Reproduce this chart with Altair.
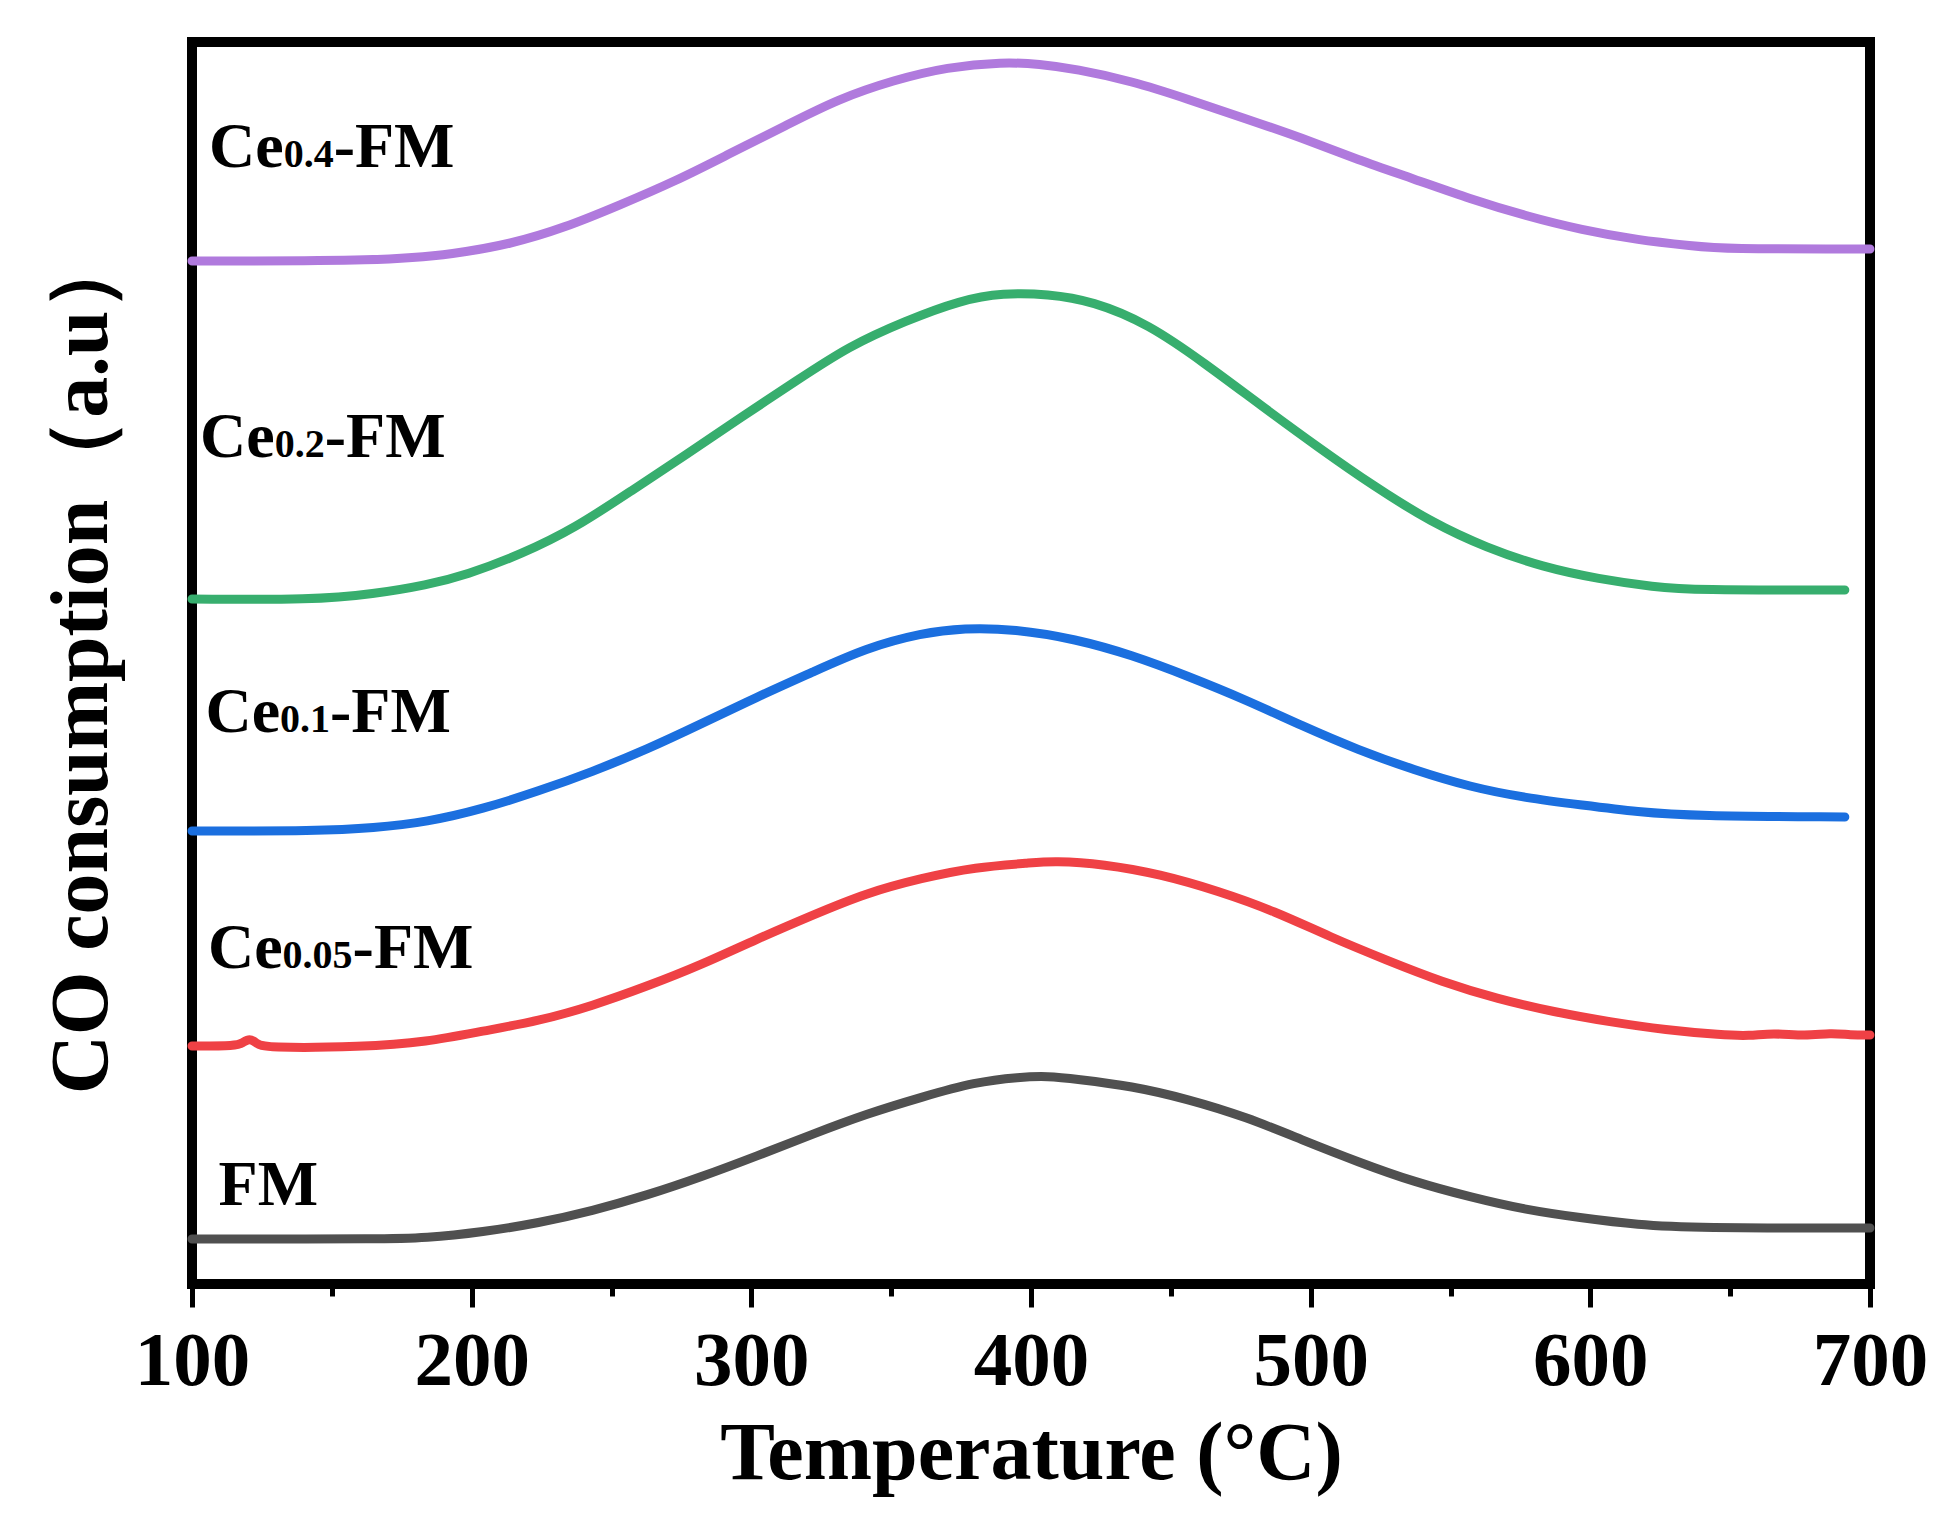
import altair as alt
import pandas as pd

# temperature (°C) and stacked signal (arbitrary units, offset per sample)
fm_t = [100, 128, 165, 184, 204, 224, 243, 263, 282, 302, 322, 341, 361, 380, 396, 406,
        416, 436, 456, 477, 497, 517, 537, 557, 577, 597, 617, 637, 700]
fm_y = [45, 45, 45, 46, 52, 61, 73, 89, 107, 128, 150, 170, 187, 202, 207, 208,
        205, 198, 185, 167, 144, 122, 102, 87, 74, 66, 59, 56, 56]

ce005_t = [100, 116, 118, 120.6, 123, 125.4, 161, 184, 204, 224, 243, 263, 282, 302, 322,
           341, 361, 380, 400, 408, 426, 446, 467, 487, 507, 527, 547, 567, 587, 607, 627,
           647, 657, 665, 677, 686, 693, 700]
ce005_y = [238, 238, 241, 246, 241, 236, 237, 242, 253, 263, 278, 298, 319, 345, 369,
           391, 406, 417, 421, 423, 420, 410, 393, 373, 347, 324, 302, 285, 272, 262, 254,
           249, 248, 251, 248, 251, 249, 249]

ce01_t = [100, 145, 165, 184, 204, 224, 243, 263, 282, 302, 322, 341, 361, 376, 394, 416,
          436, 456, 477, 497, 517, 537, 557, 577, 597, 617, 637, 691]
ce01_y = [453, 453, 456, 462, 475, 493, 512, 535, 560, 587, 612, 636, 651, 656, 655, 645,
          629, 608, 584, 558, 534, 514, 497, 486, 479, 472, 468, 467]

ce02_t = [100, 143, 165, 184, 198, 218, 237, 257, 277, 296, 316, 335, 355, 375, 390, 406,
          422, 442, 462, 482, 503, 523, 543, 563, 583, 603, 623, 637, 691]
ce02_y = [685, 684, 690, 699, 709, 730, 756, 793, 830, 866, 903, 938, 963, 984, 991, 990,
          983, 960, 921, 879, 836, 797, 762, 736, 717, 705, 697, 694, 694]

ce04_t = [100, 169, 194, 214, 233, 253, 273, 292, 312, 331, 351, 370, 390, 403, 416, 436,
          456, 476, 497, 517, 537, 557, 577, 597, 617, 637, 647, 700]
ce04_y = [1023, 1023, 1030, 1040, 1056, 1079, 1103, 1130, 1158, 1185, 1204, 1217, 1222, 1220,
          1215, 1203, 1185, 1166, 1146, 1124, 1105, 1085, 1068, 1054, 1044, 1038, 1035, 1035]

series_names = ["FM", "Ce0.05-FM", "Ce0.1-FM", "Ce0.2-FM", "Ce0.4-FM"]
series_colors = ["#505050", "#EF4145", "#1B6FDF", "#37AE6E", "#B07ADD"]

# labels: prefix, subscript, suffix, anchor temperature, baseline
label_pre = ["FM", "Ce", "Ce", "Ce", "Ce"]
label_sub = ["", "0.05", "0.1", "0.2", "0.4"]
label_post = ["", "-FM", "-FM", "-FM", "-FM"]
label_x = [109.5, 105.7, 104.8, 102.9, 106.1]
label_y = [78.6, 316, 552, 827, 1117]

W, H = 1678, 1242
FONT = "Liberation Serif"
MAIN_SIZE, SUB_SIZE = 64, 40
ADV = {"C": 722, "e": 444, "0": 500, "1": 500, "2": 500, "4": 500, "5": 500,
       ".": 250, "-": 333, "F": 611, "M": 944}


def text_w(s, size):
    return sum(ADV[c] for c in s) * size / 1000


px_per_deg = W / 600

rows = []
for name, ts, ys in zip(series_names,
                        [fm_t, ce005_t, ce01_t, ce02_t, ce04_t],
                        [fm_y, ce005_y, ce01_y, ce02_y, ce04_y]):
    for t, y in zip(ts, ys):
        rows.append({"serie": name, "temp": t, "senal": y})
df = pd.DataFrame(rows)

main_rows, sub_rows = [], []
for pre, sub, post, x0, y0 in zip(label_pre, label_sub, label_post, label_x, label_y):
    main_rows.append({"x": x0, "y": y0, "txt": pre})
    off = text_w(pre, MAIN_SIZE)
    if sub:
        sub_rows.append({"x": x0 + off / px_per_deg, "y": y0, "txt": sub})
        off += text_w(sub, SUB_SIZE)
    if post:
        main_rows.append({"x": x0 + off / px_per_deg, "y": y0, "txt": post})
df_main = pd.DataFrame(main_rows)
df_sub = pd.DataFrame(sub_rows)

x_scale = alt.Scale(domain=[100, 700], nice=False)
y_scale = alt.Scale(domain=[0, H], nice=False, zero=False)

eje_x = alt.Axis(
    values=list(range(100, 701, 50)),
    labelExpr="datum.value % 100 === 0 ? datum.label : ''",
    tickSize={"condition": {"test": "datum.value % 100 !== 0", "value": 12}, "value": 23},
    tickWidth=5, tickColor="black", domain=False, grid=False,
    labelFont=FONT, labelFontWeight="bold", labelFontSize=77, labelColor="black",
    labelBaseline="alphabetic", labelPadding=77, labelOverlap=False, labelFlush=False,
    title="Temperature (°C)", titleFont=FONT, titleFontWeight="bold", titleFontSize=82,
    titleColor="black", titleBaseline="alphabetic", titleY=194,
)
eje_y = alt.Axis(
    labels=False, ticks=False, domain=False, grid=False,
    title="CO consumption（a.u）", titleFont=FONT, titleFontWeight="bold",
    titleFontSize=82, titleColor="black", titleAngle=270, titleAlign="center",
    titleBaseline="alphabetic", titleX=-86, titleY=619,
)

lineas = (
    alt.Chart(df)
    .mark_line(strokeWidth=9, interpolate="basis", strokeCap="round")
    .encode(
        x=alt.X("temp:Q", scale=x_scale, axis=eje_x),
        y=alt.Y("senal:Q", scale=y_scale, axis=eje_y),
        color=alt.Color("serie:N", scale=alt.Scale(domain=series_names, range=series_colors),
                        legend=None),
        detail="serie:N",
    )
)

texto_main = (
    alt.Chart(df_main)
    .mark_text(font=FONT, fontWeight="bold", fontSize=MAIN_SIZE, align="left",
               baseline="alphabetic", color="black")
    .encode(x=alt.X("x:Q", scale=x_scale), y=alt.Y("y:Q", scale=y_scale), text="txt:N")
)
texto_sub = (
    alt.Chart(df_sub)
    .mark_text(font=FONT, fontWeight="bold", fontSize=SUB_SIZE, align="left",
               baseline="alphabetic", color="black")
    .encode(x=alt.X("x:Q", scale=x_scale), y=alt.Y("y:Q", scale=y_scale), text="txt:N")
)

chart = (
    (lineas + texto_main + texto_sub)
    .properties(
        width=W, height=H,
        background="white",
        autosize=alt.AutoSizeParams(type="none"),
        padding={"left": 184, "top": 34, "right": 60, "bottom": 224},
    )
    .configure_view(stroke="black", strokeWidth=10)
)

chart.save("out.html", embed_options={"renderer": "svg", "actions": False})
